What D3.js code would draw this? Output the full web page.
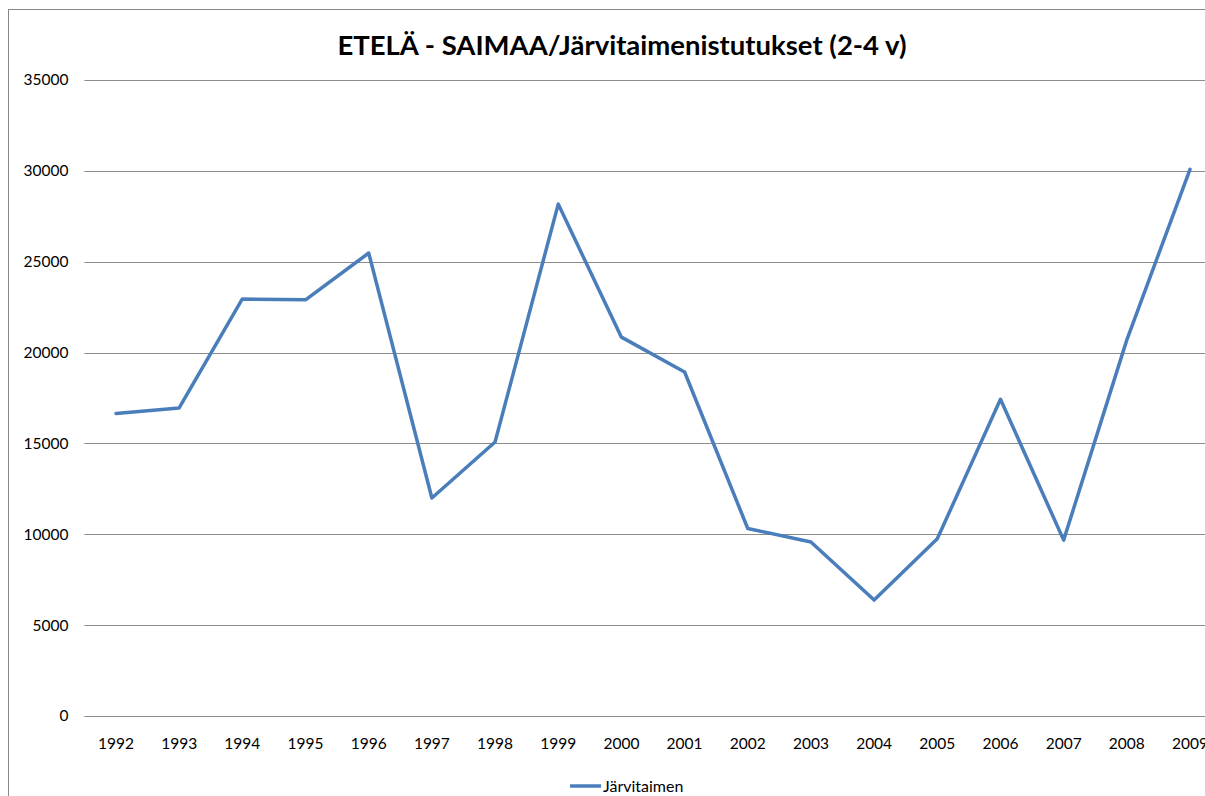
<!DOCTYPE html>
<html><head><meta charset="utf-8">
<script src="https://cdn.jsdelivr.net/npm/d3@7"></script>
<style>body{margin:0;background:#fff}svg{display:block}</style>
</head><body>
<script>
const years = ["1992","1993","1994","1995","1996","1997","1998","1999","2000","2001","2002","2003","2004","2005","2006","2007","2008","2009"];
const jarvitaimen = [16650,16950,22950,22900,25480,12000,15080,28170,20850,18930,10320,9580,6380,9750,17430,9680,20700,30080];
const yTicks = [0,5000,10000,15000,20000,25000,30000,35000];
const title = "ETELÄ - SAIMAA/Järvitaimenistutukset (2-4 v)";
const seriesName = "Järvitaimen";

const W = 1205, H = 796;
const font = "Lato, 'Open Sans', sans-serif";
const svg = d3.select("body").append("svg").attr("width", W).attr("height", H);

// chart border
svg.append("rect").attr("x", 8.5).attr("y", 9.5).attr("width", 1240).attr("height", 800)
  .attr("fill", "none").attr("stroke", "#888").attr("stroke-width", 1);

const x = d3.scaleBand().domain(years).range([84.4, 1221.6]);
const y = d3.scaleLinear().domain([0, 35000]).range([716, 80]);

// gridlines
svg.append("g").selectAll("line").data(yTicks).join("line")
  .attr("x1", 84.4).attr("x2", 1221.6)
  .attr("y1", d => Math.round(y(d)) + 0.5).attr("y2", d => Math.round(y(d)) + 0.5)
  .attr("stroke", "#8c8c8c").attr("stroke-width", 1);

// y axis labels
const yAxis = d3.axisLeft(y).tickValues(yTicks).tickSize(0).tickPadding(16).tickFormat(d3.format("d"));
const gy = svg.append("g").attr("transform", "translate(84.4,0)").call(yAxis);
gy.select(".domain").remove();
gy.selectAll("text").attr("font-family", font).attr("font-size", 15.5).attr("fill", "#000");

// x axis labels
const xAxis = d3.axisBottom(x).tickSize(0).tickPadding(22);
const gx = svg.append("g").attr("transform", "translate(0,716)").call(xAxis);
gx.select(".domain").remove();
gx.selectAll("text").attr("font-family", font).attr("font-size", 15.5).attr("fill", "#000");

// line
const line = d3.line().x((d, i) => x(years[i]) + x.bandwidth() / 2).y(d => y(d));
svg.append("path").datum(jarvitaimen).attr("d", line)
  .attr("fill", "none").attr("stroke", "#4a7ebb").attr("stroke-width", 3.5)
  .attr("stroke-linejoin", "round").attr("stroke-linecap", "round");

// title
svg.append("text").attr("x", 622).attr("y", 55).attr("text-anchor", "middle")
  .attr("font-family", font).attr("font-weight", "bold").attr("font-size", 27.5)
  .text(title);

// legend
svg.append("line").attr("x1", 570).attr("x2", 601).attr("y1", 786).attr("y2", 786)
  .attr("stroke", "#4a7ebb").attr("stroke-width", 3.5);
svg.append("text").attr("x", 603).attr("y", 792).attr("font-family", font).attr("font-size", 16)
  .text(seriesName);
</script>
</body></html>
